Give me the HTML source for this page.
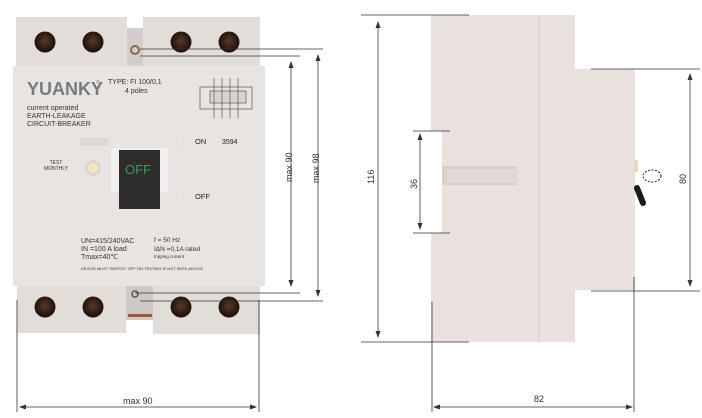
<!DOCTYPE html>
<html><head><meta charset="utf-8"><style>
html,body{margin:0;padding:0;background:#fff;width:702px;height:418px;overflow:hidden}
svg{display:block}
text{font-family:"Liberation Sans",sans-serif}
</style></head><body>
<svg width="702" height="418" viewBox="0 0 702 418" xmlns="http://www.w3.org/2000/svg">
<defs>
<radialGradient id="hole" cx="50%" cy="45%" r="55%"><stop offset="0" stop-color="#5a3a28"/><stop offset="0.7" stop-color="#2a1a12"/><stop offset="1" stop-color="#1a100a"/></radialGradient>
</defs>
<!-- LEFT DEVICE -->
<rect x="16" y="17" width="111" height="50" fill="#e2ddd9"/>
<rect x="127" y="28" width="16" height="40" fill="#d4cecb"/>
<rect x="143" y="17" width="117" height="50" fill="#e2ddd9"/>
<circle cx="135" cy="50" r="4" fill="none" stroke="#8a6a4a" stroke-width="2"/>
<rect x="13" y="66" width="252" height="220" fill="#e8e4e1"/>
<rect x="17" y="286" width="109" height="47" fill="#e2ddd9"/>
<rect x="126" y="286" width="27" height="34" fill="#cfc9c5"/>
<rect x="128" y="314" width="24" height="3" fill="#9a5a40"/>
<rect x="153" y="286" width="107" height="48" fill="#e2ddd9"/>
<circle cx="135" cy="294" r="3" fill="none" stroke="#555" stroke-width="1.5"/>
<g fill="url(#hole)">
<circle cx="45" cy="42" r="10.5"/><circle cx="93" cy="42" r="10.5"/><circle cx="181" cy="42" r="10.5"/><circle cx="229" cy="42" r="10.5"/>
<circle cx="45" cy="307" r="10.5"/><circle cx="93" cy="307" r="10.5"/><circle cx="181" cy="307" r="10.5"/><circle cx="229" cy="307" r="10.5"/>
</g>
<text x="27" y="95" font-size="18" font-weight="bold" fill="#7a7a7a">YUANKY</text>
<text x="96" y="84" font-size="5" fill="#888">®</text>
<text x="108" y="84" font-size="7" fill="#333">TYPE: FI 100/0,1</text>
<text x="125" y="93" font-size="7" fill="#333">4 poles</text>
<text x="27" y="110" font-size="7" fill="#333">current operated</text>
<text x="27" y="118" font-size="7" fill="#333">EARTH-LEAKAGE</text>
<text x="27" y="126" font-size="7" fill="#333">CIRCUIT-BREAKER</text>
<g stroke="#555" stroke-width="0.7" fill="none">
<rect x="200" y="87" width="52" height="22"/><rect x="210" y="91" width="36" height="12" fill="#d8d4d0"/>
<line x1="214" y1="78" x2="214" y2="118"/><line x1="222" y1="78" x2="222" y2="118"/><line x1="230" y1="78" x2="230" y2="118"/><line x1="238" y1="78" x2="238" y2="118"/>
</g>
<text x="56" y="164" font-size="5" fill="#333" text-anchor="middle">TEST</text>
<text x="56" y="170" font-size="5" fill="#333" text-anchor="middle">MONTHLY</text>
<circle cx="93" cy="168" r="8" fill="#ddd5c8"/><circle cx="93" cy="168" r="5" fill="#f2e6c8"/>
<rect x="80" y="138" width="28" height="8" fill="#ddd8d4"/>
<rect x="111" y="148" width="57" height="44" fill="#f2f0ee"/>
<rect x="119" y="150" width="41" height="59" fill="#2e2d2c"/>
<text x="125" y="174" font-size="13" fill="#3a9a5a">OFF</text>
<circle cx="180" cy="141" r="4" fill="none" stroke="#ddd" />
<circle cx="180" cy="196" r="4" fill="none" stroke="#ddd" />
<text x="195" y="144" font-size="7.5" fill="#222">ON</text>
<text x="222" y="144" font-size="7" fill="#222">3594</text>
<text x="195" y="199" font-size="7.5" fill="#222">OFF</text>
<text x="81" y="243" font-size="7" fill="#333">UN=415/240VAC</text>
<text x="81" y="251" font-size="7" fill="#333">IN =100 A load</text>
<text x="81" y="259" font-size="7" fill="#333">Tmax=40℃</text>
<text x="154" y="242" font-size="6.5" fill="#333">f = 50 Hz</text>
<text x="154" y="251" font-size="6.5" fill="#333">IΔN =0,1A rated</text>
<text x="154" y="258" font-size="4.5" fill="#333">tripping current</text>
<text x="81" y="270" font-size="4" fill="#333">DEVICE MUST SWITCH" OFF"ON TESTING,IF NOT SEEK ADVICE</text>
<!-- left dims -->
<g stroke="#333" stroke-width="0.8" fill="none">
<line x1="140" y1="49" x2="323" y2="49"/><line x1="140" y1="56" x2="300" y2="56"/>
<line x1="135" y1="293" x2="300" y2="293"/><line x1="140" y1="301" x2="323" y2="301"/>
<line x1="291" y1="62" x2="291" y2="286"/><line x1="318" y1="55" x2="318" y2="296"/>
<line x1="17" y1="300" x2="17" y2="412"/><line x1="259" y1="300" x2="259" y2="412"/>
<line x1="20" y1="407" x2="256" y2="407"/>
</g>
<g fill="#333">
<path d="M291 61l-2.5 7h5z"/><path d="M291 287l-2.5-7h5z"/>
<path d="M318 54l-2.5 7h5z"/><path d="M318 297l-2.5-7h5z"/>
<path d="M19 407l7-2.5v5z"/><path d="M257 407l-7-2.5v5z"/>
</g>
<text x="123" y="404" font-size="9" fill="#333">max 90</text>
<text transform="translate(292,182) rotate(-90)" font-size="9" fill="#333">max 90</text>
<text transform="translate(319,183) rotate(-90)" font-size="9" fill="#333">max 98</text>
<!-- RIGHT DEVICE -->
<path d="M431 15H575V69H635V290H575V342H431V233H442V131H431Z" fill="#e8e1dd"/>
<line x1="539" y1="15" x2="539" y2="342" stroke="#d8d0cc" stroke-width="1"/>
<rect x="442" y="166" width="75" height="19" fill="#d6cfcb"/>
<rect x="447" y="169" width="70" height="14" fill="#e0dad6"/>
<ellipse cx="652" cy="176" rx="9" ry="6" fill="#fff" stroke="#222" stroke-dasharray="2 1.5"/>
<path d="M637 188l6 15" stroke="#1a1a1a" stroke-width="6" stroke-linecap="round"/>
<rect x="634" y="160" width="4" height="12" fill="#e8d8b8"/>
<g stroke="#333" stroke-width="0.8" fill="none">
<line x1="361" y1="15" x2="469" y2="15"/><line x1="361" y1="342" x2="469" y2="342"/>
<line x1="378" y1="22" x2="378" y2="337"/>
<line x1="413" y1="131" x2="450" y2="131"/><line x1="413" y1="233" x2="450" y2="233"/>
<line x1="420" y1="134" x2="420" y2="229"/>
<line x1="591" y1="69" x2="700" y2="69"/><line x1="591" y1="291" x2="700" y2="291"/>
<line x1="690" y1="74" x2="690" y2="286"/>
<line x1="432" y1="302" x2="432" y2="412"/><line x1="634" y1="277" x2="634" y2="412"/>
<line x1="434" y1="407" x2="632" y2="407"/>
</g>
<g fill="#333">
<path d="M378 21l-2.5 7h5z"/><path d="M378 338l-2.5-7h5z"/>
<path d="M420 133l-2.5 7h5z"/><path d="M420 230l-2.5-7h5z"/>
<path d="M690 73l-2.5 7h5z"/><path d="M690 287l-2.5-7h5z"/>
<path d="M433 407l7-2.5v5z"/><path d="M633 407l-7-2.5v5z"/>
</g>
<text transform="translate(374,184) rotate(-90)" font-size="9" fill="#333">116</text>
<text transform="translate(417,189) rotate(-90)" font-size="9" fill="#333">36</text>
<text transform="translate(686,184) rotate(-90)" font-size="9" fill="#333">80</text>
<text x="534" y="402" font-size="9" fill="#333">82</text>
</svg>
</body></html>
